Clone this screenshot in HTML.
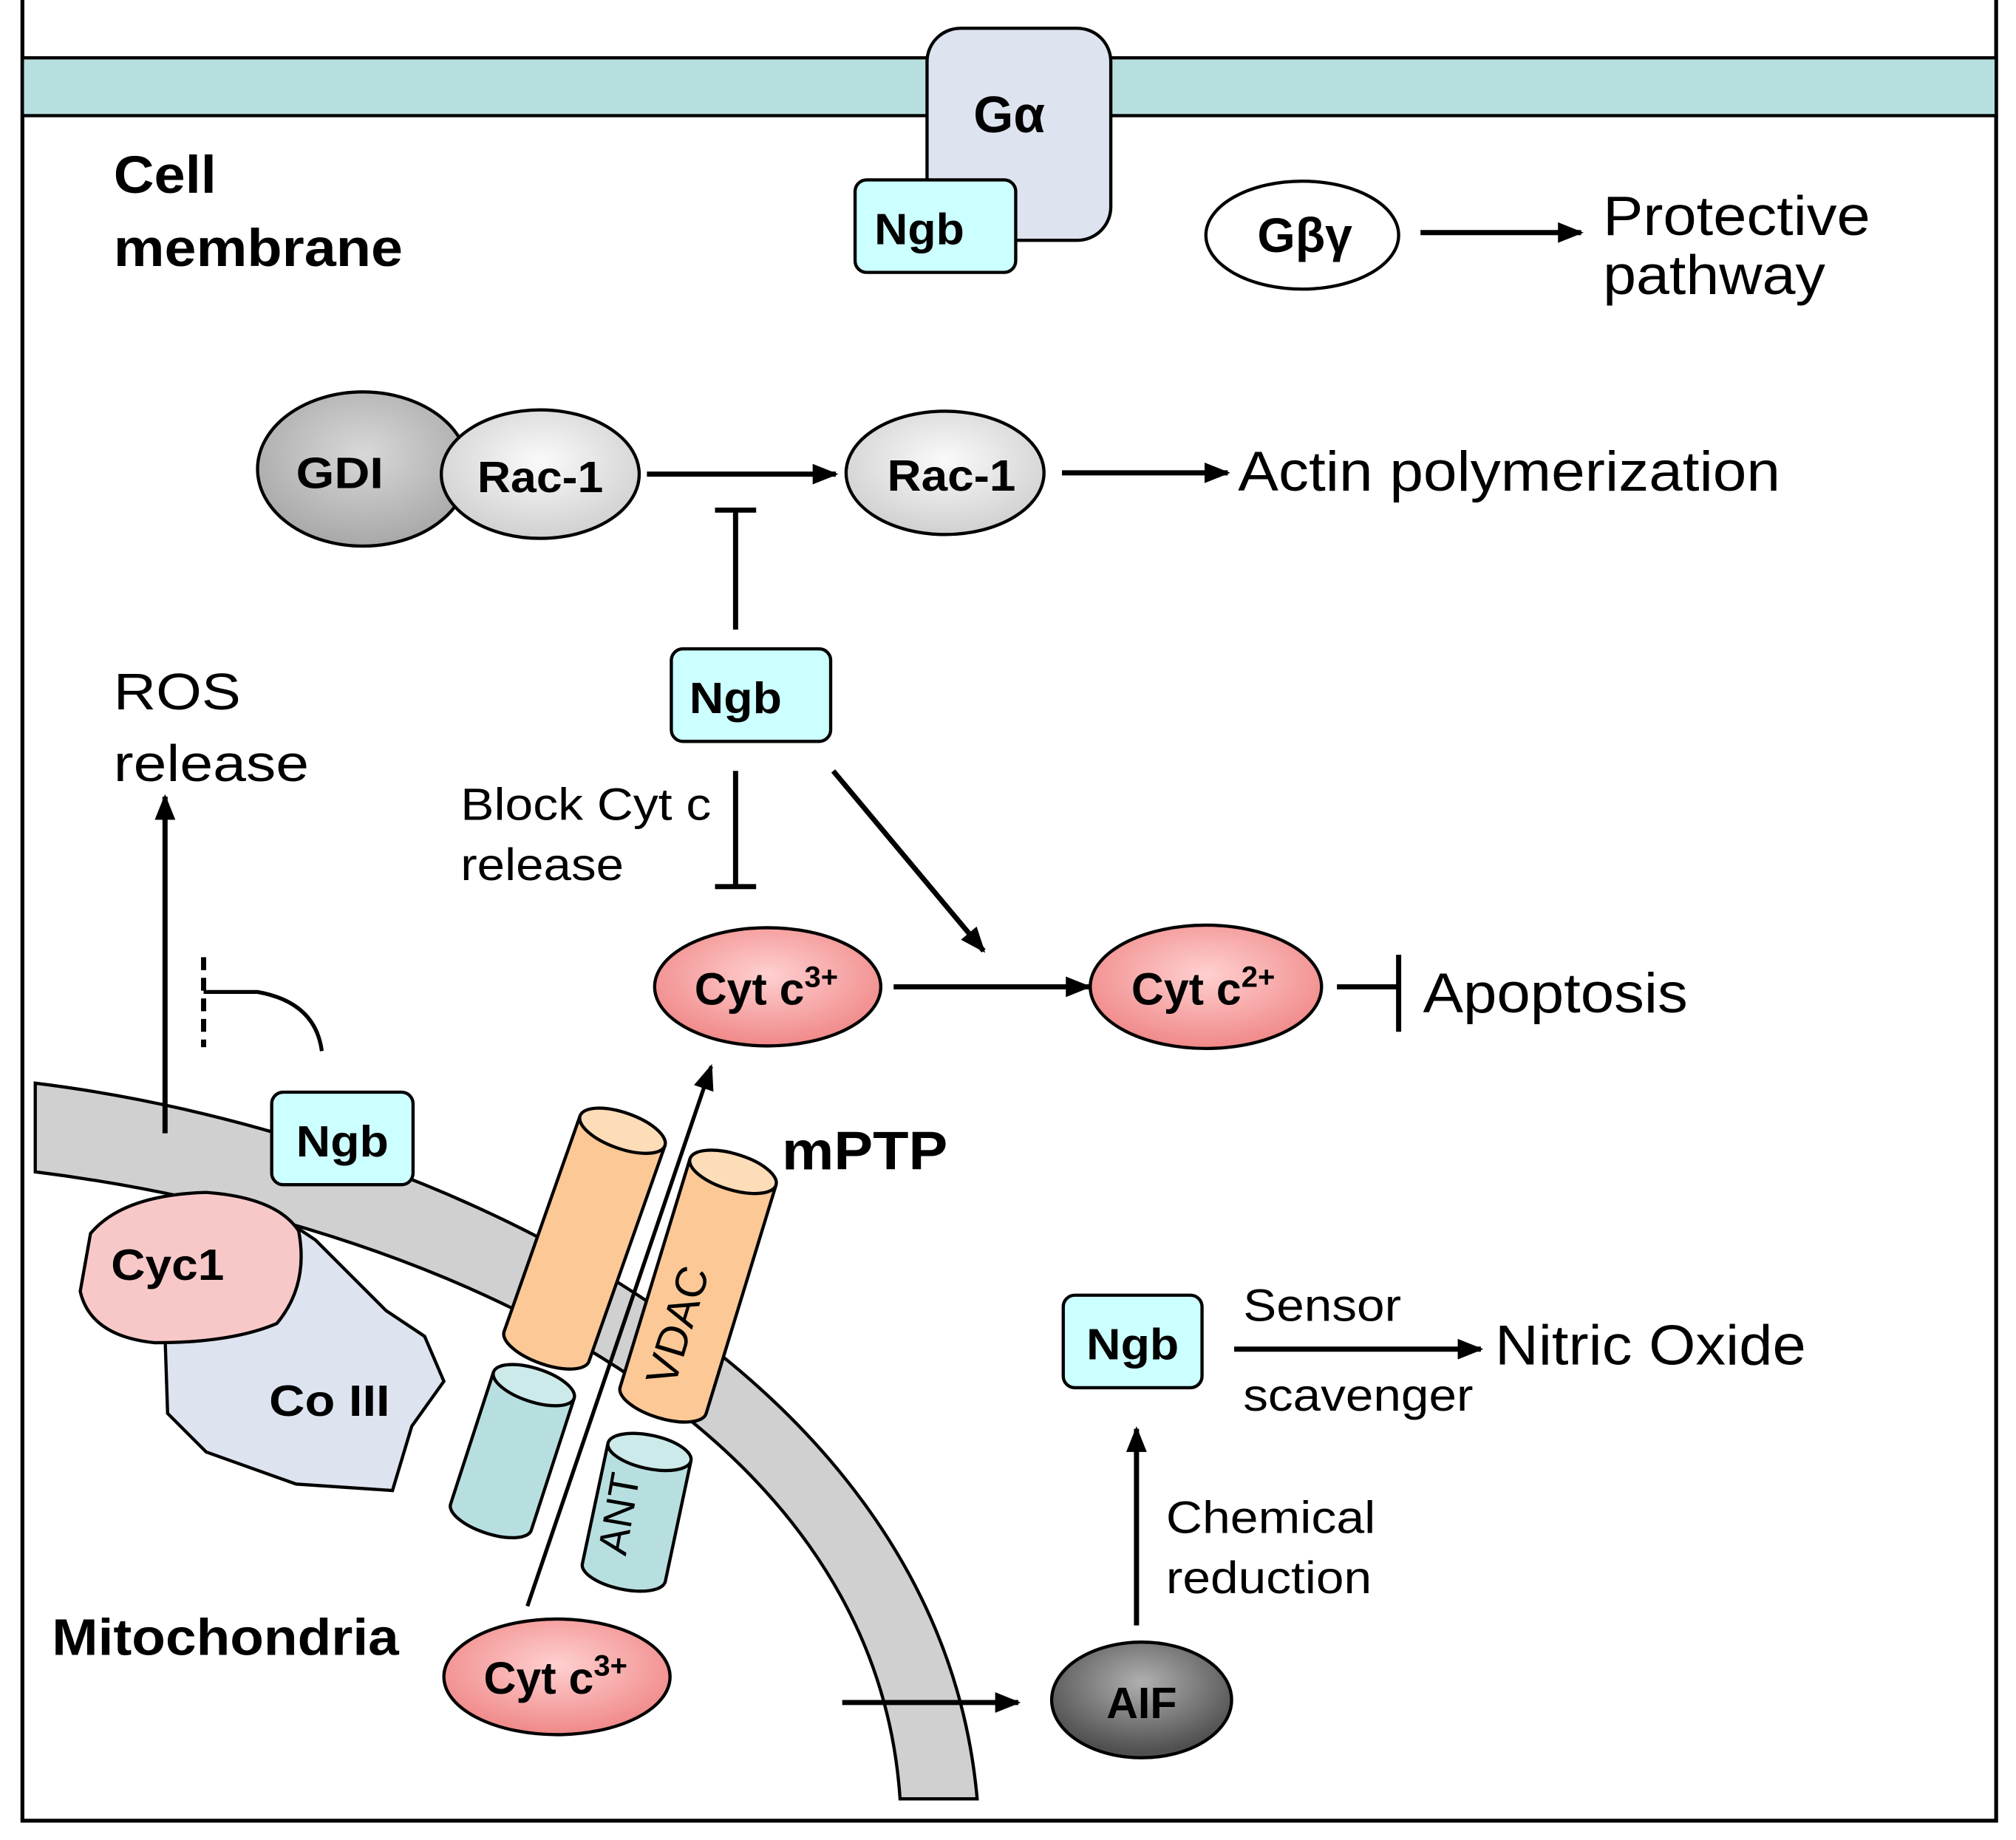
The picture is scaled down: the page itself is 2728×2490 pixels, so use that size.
<!DOCTYPE html>
<html><head><meta charset="utf-8"><style>html,body{margin:0;padding:0;background:#fff}svg{display:block}text{font-family:"Liberation Sans",sans-serif}</style></head><body>
<svg width="2728" height="2490" viewBox="0 0 1568 1432" xmlns="http://www.w3.org/2000/svg">
<defs>
<marker id="a" markerWidth="20" markerHeight="16" refX="18" refY="8" orient="auto" markerUnits="userSpaceOnUse" viewBox="0 0 20 16"><path d="M0,0 L20,8 L0,16z" fill="#000"/></marker>
<radialGradient id="gr" cx="50%" cy="40%" r="60%"><stop offset="0" stop-color="#fafafa"/><stop offset="1" stop-color="#d0d0d0"/></radialGradient>
<radialGradient id="gd" cx="50%" cy="40%" r="60%"><stop offset="0" stop-color="#d8d8d8"/><stop offset="1" stop-color="#a8a8a8"/></radialGradient>
<radialGradient id="pk" cx="50%" cy="40%" r="60%"><stop offset="0" stop-color="#ffd0d0"/><stop offset="1" stop-color="#f08888"/></radialGradient>
<radialGradient id="dk" cx="50%" cy="35%" r="60%"><stop offset="0" stop-color="#b0b0b0"/><stop offset="1" stop-color="#505050"/></radialGradient>
</defs>
<g stroke="#000" stroke-width="3" fill="none">
<path d="M17,0 V1417 H1553 V0"/>
</g>
<rect x="17" y="45" width="1536" height="45" fill="#b8dfe0" stroke="#000" stroke-width="2.5"/>
<rect x="721" y="22" width="143" height="165" rx="26" fill="#dde4ef" stroke="#000" stroke-width="2.5"/>
<text x="785" y="103" font-size="40" font-weight="bold" text-anchor="middle">Gα</text>
<rect x="665" y="140" width="125" height="72" rx="9" fill="#ccffff" stroke="#000" stroke-width="2.5"/>
<text x="715" y="190" font-size="34" font-weight="bold" text-anchor="middle" textLength="70" lengthAdjust="spacingAndGlyphs">Ngb</text>
<text x="88" y="150" font-size="41" font-weight="bold" textLength="80" lengthAdjust="spacingAndGlyphs">Cell</text>
<text x="88" y="207" font-size="41" font-weight="bold" textLength="225" lengthAdjust="spacingAndGlyphs">membrane</text>
<ellipse cx="1013" cy="183" rx="75" ry="42" fill="#fff" stroke="#000" stroke-width="2.5"/>
<text x="1015" y="196" font-size="38" font-weight="bold" text-anchor="middle">Gβγ</text>
<line x1="1105" y1="181" x2="1230" y2="181" stroke="#000" stroke-width="4" marker-end="url(#a)"/>
<text x="1247" y="183" font-size="43" textLength="208" lengthAdjust="spacingAndGlyphs">Protective</text>
<text x="1247" y="229" font-size="43" textLength="173" lengthAdjust="spacingAndGlyphs">pathway</text>
<ellipse cx="282" cy="365" rx="82" ry="60" fill="url(#gd)" stroke="#000" stroke-width="2.5"/>
<text x="264" y="380" font-size="34" font-weight="bold" text-anchor="middle" textLength="68" lengthAdjust="spacingAndGlyphs">GDI</text>
<ellipse cx="420" cy="369" rx="77" ry="50" fill="url(#gr)" stroke="#000" stroke-width="2.5"/>
<text x="420" y="383" font-size="34" font-weight="bold" text-anchor="middle" textLength="98" lengthAdjust="spacingAndGlyphs">Rac-1</text>
<line x1="503" y1="369" x2="650" y2="369" stroke="#000" stroke-width="4" marker-end="url(#a)"/>
<ellipse cx="735" cy="368" rx="77" ry="48" fill="url(#gr)" stroke="#000" stroke-width="2.5"/>
<text x="740" y="382" font-size="34" font-weight="bold" text-anchor="middle" textLength="100" lengthAdjust="spacingAndGlyphs">Rac-1</text>
<line x1="826" y1="368" x2="955" y2="368" stroke="#000" stroke-width="4" marker-end="url(#a)"/>
<text x="963" y="382" font-size="44" textLength="422" lengthAdjust="spacingAndGlyphs">Actin polymerization</text>
<g stroke="#000" stroke-width="4"><line x1="572" y1="490" x2="572" y2="397"/><line x1="556" y1="397" x2="588" y2="397"/>
<line x1="572" y1="600" x2="572" y2="690"/><line x1="556" y1="690" x2="588" y2="690"/></g>
<rect x="522" y="505" width="124" height="72" rx="9" fill="#ccffff" stroke="#000" stroke-width="2.5"/>
<text x="572" y="555" font-size="34" font-weight="bold" text-anchor="middle" textLength="72" lengthAdjust="spacingAndGlyphs">Ngb</text>
<text x="358" y="638" font-size="35" textLength="195" lengthAdjust="spacingAndGlyphs">Block Cyt c</text>
<text x="358" y="685" font-size="35" textLength="127" lengthAdjust="spacingAndGlyphs">release</text>
<line x1="648" y1="600" x2="765" y2="740" stroke="#000" stroke-width="4" marker-end="url(#a)"/>
<ellipse cx="597" cy="768" rx="88" ry="46" fill="url(#pk)" stroke="#000" stroke-width="2.5"/>
<text x="540" y="782" font-size="35" font-weight="bold">Cyt c<tspan font-size="23" dy="-14">3+</tspan></text>
<line x1="695" y1="768" x2="847" y2="768" stroke="#000" stroke-width="4" marker-end="url(#a)"/>
<ellipse cx="938" cy="768" rx="90" ry="48" fill="url(#pk)" stroke="#000" stroke-width="2.5"/>
<text x="880" y="782" font-size="35" font-weight="bold">Cyt c<tspan font-size="23" dy="-14">2+</tspan></text>
<g stroke="#000" stroke-width="4"><line x1="1040" y1="768" x2="1088" y2="768"/><line x1="1088" y1="743" x2="1088" y2="803"/></g>
<text x="1107" y="788" font-size="44" textLength="206" lengthAdjust="spacingAndGlyphs">Apoptosis</text>
<text x="88" y="552" font-size="40" textLength="99" lengthAdjust="spacingAndGlyphs">ROS</text>
<text x="88" y="608" font-size="40" textLength="152" lengthAdjust="spacingAndGlyphs">release</text>
<path d="M27,843 C330,880 730,1060 760,1400 L700,1400 C680,1100 330,950 27,912 Z" fill="#d0d0d0" stroke="#000" stroke-width="2.5"/>
<line x1="128" y1="882" x2="128" y2="620" stroke="#000" stroke-width="4" marker-end="url(#a)"/>
<line x1="158" y1="745" x2="158" y2="815" stroke="#000" stroke-width="4" stroke-dasharray="10,6"/>
<path d="M158,772 H200 Q245,780 250,818" stroke="#000" stroke-width="3" fill="none"/>
<rect x="211" y="850" width="110" height="72" rx="9" fill="#ccffff" stroke="#000" stroke-width="2.5"/>
<text x="266" y="900" font-size="34" font-weight="bold" text-anchor="middle" textLength="72" lengthAdjust="spacingAndGlyphs">Ngb</text>
<path d="M135,1000 L230,955 L245,965 L265,985 L300,1020 L330,1040 L345,1075 L320,1110 L305,1160 L230,1155 L160,1130 L130,1100 L128,1040 Z" fill="#dde4ef" stroke="#000" stroke-width="2.5"/>
<path d="M70,960 Q95,930 160,928 Q215,932 232,958 Q240,1000 215,1030 Q180,1045 120,1045 Q70,1040 62,1005 Z" fill="#f8c8c8" stroke="#000" stroke-width="2.5"/>
<text x="130" y="996" font-size="34" font-weight="bold" text-anchor="middle" textLength="88" lengthAdjust="spacingAndGlyphs">Cyc1</text>
<text x="256" y="1102" font-size="34" font-weight="bold" text-anchor="middle" textLength="94" lengthAdjust="spacingAndGlyphs">Co III</text>
<g stroke="#000" stroke-width="2.5">
<g transform="translate(484,880) rotate(19.4)"><path d="M-35,0 V178 A35,14 0 0 0 35,178 V0" fill="#fbc896"/><ellipse cx="0" cy="0" rx="35" ry="14" fill="#fddcb8"/></g>
<g transform="translate(570,912) rotate(17)"><path d="M-35,0 V186 A35,14 0 0 0 35,186 V0" fill="#fbc896"/><ellipse cx="0" cy="0" rx="35" ry="14" fill="#fddcb8"/></g>
<g transform="translate(415,1078) rotate(18)"><path d="M-33,0 V108 A33,13 0 0 0 33,108 V0" fill="#b8dfe0"/><ellipse cx="0" cy="0" rx="33" ry="13" fill="#cdeaea"/></g>
<g transform="translate(505,1130) rotate(12)"><path d="M-33,0 V96 A33,13 0 0 0 33,96 V0" fill="#b8dfe0"/><ellipse cx="0" cy="0" rx="33" ry="13" fill="#cdeaea"/></g>
</g>
<text transform="translate(538,1035) rotate(-73)" font-size="34" text-anchor="middle">VDAC</text>
<text transform="translate(492,1180) rotate(-80)" font-size="32" text-anchor="middle">ANT</text>
<line x1="410" y1="1250" x2="553" y2="830" stroke="#000" stroke-width="3" marker-end="url(#a)"/>
<text x="608" y="910" font-size="42" font-weight="bold" textLength="129" lengthAdjust="spacingAndGlyphs">mPTP</text>
<ellipse cx="433" cy="1305" rx="88" ry="45" fill="url(#pk)" stroke="#000" stroke-width="2.5"/>
<text x="376" y="1318" font-size="35" font-weight="bold">Cyt c<tspan font-size="23" dy="-14">3+</tspan></text>
<text x="40" y="1288" font-size="40" font-weight="bold" textLength="270" lengthAdjust="spacingAndGlyphs">Mitochondria</text>
<line x1="655" y1="1325" x2="792" y2="1325" stroke="#000" stroke-width="4" marker-end="url(#a)"/>
<ellipse cx="888" cy="1323" rx="70" ry="45" fill="url(#dk)" stroke="#000" stroke-width="2.5"/>
<text x="888" y="1337" font-size="34" font-weight="bold" text-anchor="middle">AIF</text>
<line x1="884" y1="1265" x2="884" y2="1112" stroke="#000" stroke-width="4" marker-end="url(#a)"/>
<text x="907" y="1193" font-size="35" textLength="163" lengthAdjust="spacingAndGlyphs">Chemical</text>
<text x="907" y="1240" font-size="35" textLength="160" lengthAdjust="spacingAndGlyphs">reduction</text>
<rect x="827" y="1008" width="108" height="72" rx="9" fill="#ccffff" stroke="#000" stroke-width="2.5"/>
<text x="881" y="1058" font-size="34" font-weight="bold" text-anchor="middle" textLength="72" lengthAdjust="spacingAndGlyphs">Ngb</text>
<line x1="960" y1="1050" x2="1152" y2="1050" stroke="#000" stroke-width="4" marker-end="url(#a)"/>
<text x="967" y="1028" font-size="35" textLength="123" lengthAdjust="spacingAndGlyphs">Sensor</text>
<text x="967" y="1098" font-size="35" textLength="179" lengthAdjust="spacingAndGlyphs">scavenger</text>
<text x="1163" y="1062" font-size="44" textLength="242" lengthAdjust="spacingAndGlyphs">Nitric Oxide</text>
</svg>
</body></html>
